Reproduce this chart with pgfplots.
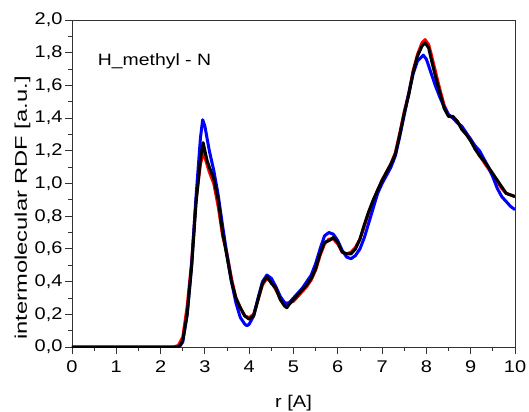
\documentclass[border=0pt]{standalone}
\usepackage{fontspec}
\setmainfont{Liberation Sans}[FakeStretch=1.18]
\newfontfamily\ylabfont{Liberation Sans}[FakeStretch=1.4]
\usepackage{pgfplots}
\pgfplotsset{compat=1.18}
\usepackage{pgfplotstable}

\pgfplotstableread{
r v
0 0
2.3 0
2.4 0.01
2.5 0.06
2.6 0.25
2.7 0.52
2.8 0.90
2.9 1.12
2.97 1.19
3.0 1.16
3.1 1.07
3.2 1.00
3.3 0.86
3.4 0.68
3.5 0.57
3.6 0.42
3.7 0.30
3.8 0.24
3.9 0.19
4.0 0.18
4.1 0.20
4.2 0.29
4.3 0.38
4.4 0.42
4.5 0.40
4.6 0.35
4.7 0.30
4.8 0.27
4.9 0.27
5.0 0.28
5.1 0.31
5.2 0.34
5.3 0.37
5.4 0.41
5.5 0.47
5.6 0.56
5.7 0.63
5.8 0.66
5.9 0.66
6.0 0.63
6.1 0.58
6.2 0.57
6.3 0.58
6.4 0.61
6.5 0.66
6.6 0.74
6.7 0.82
6.8 0.89
6.9 0.96
7.0 1.02
7.1 1.07
7.2 1.12
7.3 1.19
7.4 1.31
7.5 1.44
7.6 1.55
7.7 1.69
7.8 1.79
7.9 1.86
7.97 1.88
8.05 1.85
8.1 1.80
8.2 1.69
8.3 1.58
8.4 1.48
8.5 1.42
8.6 1.40
8.7 1.38
8.8 1.34
8.9 1.30
9.0 1.27
9.1 1.22
9.2 1.17
9.3 1.13
9.4 1.09
9.5 1.05
9.6 1.01
9.7 0.97
9.8 0.94
9.9 0.93
10.0 0.92
}\redtab

\pgfplotstableread{
r v
0 0
2.3 0
2.4 0
2.5 0.03
2.6 0.20
2.7 0.50
2.8 0.92
2.9 1.28
2.95 1.39
3.0 1.35
3.1 1.20
3.2 1.08
3.3 0.93
3.4 0.74
3.5 0.56
3.6 0.40
3.7 0.27
3.8 0.18
3.9 0.14
3.95 0.13
4.0 0.14
4.1 0.19
4.2 0.30
4.3 0.40
4.4 0.44
4.5 0.42
4.6 0.37
4.7 0.31
4.8 0.27
4.85 0.26
4.9 0.27
5.0 0.30
5.1 0.33
5.2 0.36
5.3 0.40
5.4 0.44
5.5 0.51
5.6 0.60
5.7 0.68
5.8 0.70
5.9 0.69
6.0 0.65
6.1 0.59
6.2 0.55
6.3 0.54
6.4 0.56
6.5 0.60
6.6 0.67
6.7 0.76
6.8 0.85
6.9 0.94
7.0 1.00
7.1 1.05
7.2 1.10
7.3 1.17
7.4 1.29
7.5 1.42
7.6 1.55
7.7 1.67
7.8 1.75
7.93 1.785
8.0 1.76
8.1 1.68
8.2 1.60
8.3 1.53
8.4 1.47
8.5 1.42
8.6 1.40
8.7 1.37
8.8 1.35
8.9 1.31
9.0 1.27
9.1 1.23
9.2 1.20
9.3 1.15
9.4 1.10
9.5 1.04
9.6 0.97
9.7 0.92
9.8 0.89
9.9 0.86
10.0 0.84
}\bluetab

\pgfplotstableread{
r v
0 0
2.3 0
2.4 0
2.45 0.01
2.5 0.04
2.6 0.20
2.7 0.49
2.8 0.88
2.9 1.15
2.96 1.25
3.0 1.20
3.05 1.14
3.1 1.10
3.2 1.03
3.3 0.90
3.4 0.70
3.5 0.55
3.6 0.40
3.7 0.30
3.8 0.24
3.9 0.19
4.0 0.17
4.1 0.19
4.2 0.29
4.3 0.39
4.4 0.43
4.5 0.39
4.6 0.36
4.7 0.29
4.8 0.25
4.85 0.24
4.9 0.26
5.0 0.29
5.1 0.32
5.2 0.35
5.3 0.38
5.4 0.42
5.5 0.48
5.6 0.57
5.7 0.64
5.8 0.65
5.9 0.67
6.0 0.64
6.1 0.58
6.2 0.57
6.3 0.57
6.4 0.60
6.5 0.66
6.6 0.75
6.7 0.83
6.8 0.90
6.9 0.96
7.0 1.02
7.1 1.07
7.2 1.12
7.3 1.18
7.4 1.30
7.5 1.43
7.6 1.54
7.7 1.68
7.8 1.78
7.9 1.84
7.97 1.86
8.05 1.83
8.1 1.77
8.2 1.66
8.3 1.56
8.4 1.46
8.5 1.41
8.6 1.41
8.7 1.38
8.8 1.33
8.9 1.30
9.0 1.26
9.1 1.21
9.2 1.17
9.3 1.14
9.4 1.10
9.5 1.06
9.6 1.02
9.7 0.98
9.8 0.94
9.9 0.93
10.0 0.92
}\blacktab

\begin{document}
\begin{tikzpicture}
\begin{axis}[
  scale only axis,
  width=443bp, height=327bp,
  xmin=0, xmax=10, ymin=0, ymax=2,
  xtick={0,1,...,10},
  ytick={0,0.2,...,2.0},
  minor x tick num=1,
  minor y tick num=1,
  tick align=outside,
  xtick pos=bottom, ytick pos=left,
  major tick length=7bp,
  minor tick length=4bp,
  every tick/.style={black!80, line width=0.9bp},
  axis line style={black!80, line width=0.9bp},
  /pgf/number format/assume math mode=true,
  tick label style={font=\fontsize{17}{17}\selectfont},
  xticklabel style={yshift=-3bp},
  yticklabel style={xshift=1bp, /pgf/number format/.cd, fixed, fixed zerofill, precision=1, use comma},
  xlabel={r [A]},
  ylabel={\ylabfont intermolecular RDF [a.u.]},
  label style={font=\fontsize{17}{17}\selectfont},
  xlabel style={at={(axis description cs:0.5,-0.171)}, anchor=center},
  ylabel style={at={(axis description cs:-0.112,0.425)}, anchor=center},
  clip=true,
]
\addplot[red, line width=3bp, line join=round] table[x=r, y=v] {\redtab};
\addplot[blue, line width=3bp, line join=round] table[x=r, y=v] {\bluetab};
\addplot[black, line width=3bp, line join=round] table[x=r, y=v] {\blacktab};
\node[anchor=west, font=\fontsize{16.5}{16.5}\selectfont, inner sep=0pt] at (axis cs:0.58,1.75) {H\_methyl - N};
\end{axis}
\pgfresetboundingbox
\path ([shift={(-72bp,-65bp)}]current axis.south west) rectangle ([shift={(14bp,20bp)}]current axis.north east);
\end{tikzpicture}
\end{document}
